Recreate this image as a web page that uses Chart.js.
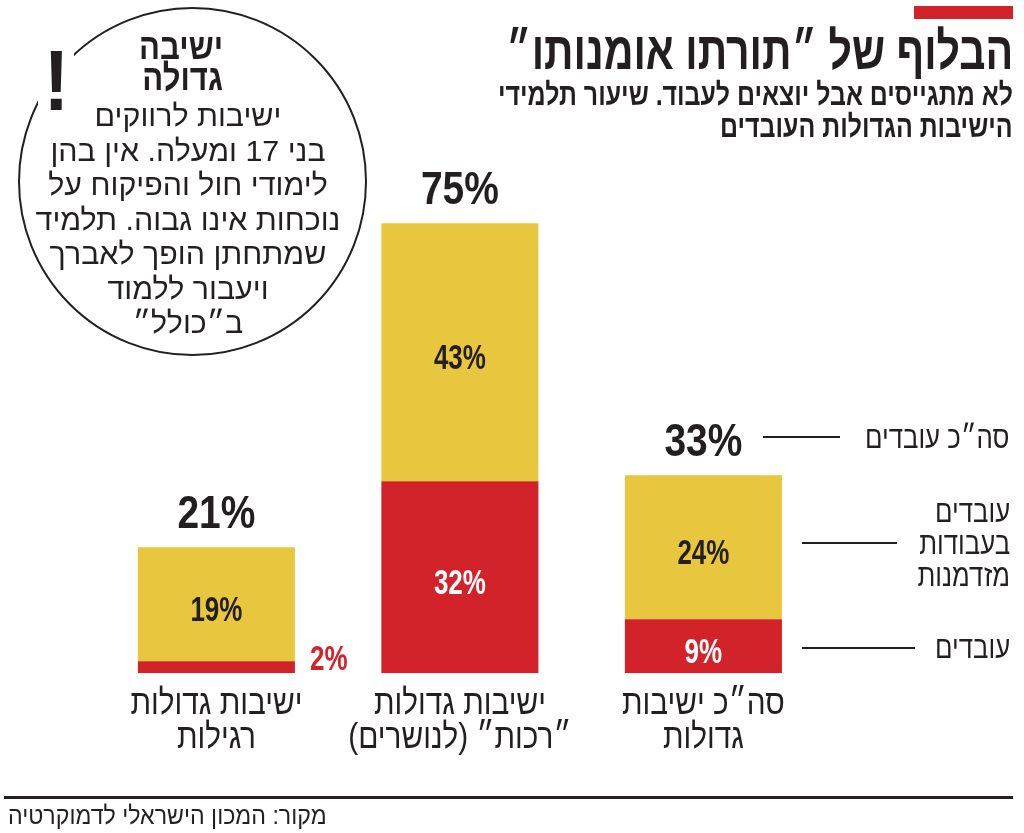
<!DOCTYPE html>
<html lang="he">
<head>
<meta charset="utf-8">
<script src="https://cdn.jsdelivr.net/npm/chart.js@4.4.1/dist/chart.umd.min.js"></script>
<style>
html,body{margin:0;padding:0;background:#fff;}
#wrap{position:relative;width:1024px;height:833px;overflow:hidden;background:#fff;font-family:"Liberation Sans","DejaVu Sans",sans-serif;color:#231f20;}
#c{position:absolute;left:0;top:0;}
.t{position:absolute;white-space:nowrap;line-height:1;direction:rtl;}
.rule{position:absolute;background:#231f20;}
#circle{position:absolute;left:18px;top:7px;width:349px;height:349px;border:2.5px solid #231f20;border-radius:50%;box-sizing:border-box;}
#bang{position:absolute;left:38px;top:44px;width:36px;height:72px;background:#fff;font-weight:700;font-size:86px;line-height:72px;text-align:center;}
#bang span{display:inline-block;transform:scaleX(0.9);}
</style>
</head>
<body>
<div id="wrap">
  <canvas id="c" width="1024" height="833"></canvas>
  <div id="circle"></div>
  <div id="bang"><span>!</span></div>
  <div class="rule" style="left:914px;top:6px;width:99px;height:13px;background:#d2232a;"></div>
  <div class="rule" style="left:763px;top:436px;width:77px;height:2px;"></div>
  <div class="rule" style="left:802px;top:542px;width:95px;height:2px;"></div>
  <div class="rule" style="left:802px;top:647px;width:113px;height:2px;"></div>
  <div class="rule" style="left:4px;top:796px;width:1009px;height:3px;"></div>
</div>
<script>
// ---- data ----
const categories = [
  ["ישיבות גדולות", "רגילות"],
  ["ישיבות גדולות", "״רכות״ (לנושרים)"],
  ["סה״כ ישיבות", "גדולות"]
];
const seriesNames = ["עובדים", "עובדים בעבודות מזדמנות"];
const workingValues = [2, 32, 9];        // red, bottom
const casualWorkValues = [19, 43, 24];   // yellow, top
const legendTotalLabel = "סה״כ עובדים";
const legendCasualLines = ["עובדים", "בעבודות", "מזדמנות"];
const legendWorkingLabel = "עובדים";

const titleText = "הבלוף של ״תורתו אומנותו״";
const subtitleLines = ["לא מתגייסים אבל יוצאים לעבוד. שיעור תלמידי", "הישיבות הגדולות העובדים"];
const boxTitleLines = ["ישיבה", "גדולה"];
const boxBodyLines = ["ישיבות לרווקים", "בני 17 ומעלה. אין בהן", "לימודי חול והפיקוח על", "נוכחות אינו גבוה. תלמיד", "שמתחתן הופך לאברך", "ויעבור ללמוד", "ב״כולל״"];
const sourceText = "מקור: המכון הישראלי לדמוקרטיה";

const RED = "#d2232a", YELLOW = "#e8c73e", DARK = "#231f20";
const FONT = '"Liberation Sans","DejaVu Sans",sans-serif';

// ---- HTML text helpers ----
const wrap = document.getElementById('wrap');
function mk(text, o){
  const el = document.createElement('div');
  el.className = 't';
  el.textContent = text;
  el.style.fontSize = o.size + 'px';
  el.style.fontWeight = o.bold ? '700' : '400';
  el.style.top = (o.cy - 0.53 * o.size) + 'px';
  if (o.right !== undefined) el.style.right = (1024 - o.right) + 'px';
  else el.style.left = o.cx + 'px';
  wrap.appendChild(el);
  return el;
}
function finish(el, o, sx){
  if (o.right !== undefined){
    el.style.transformOrigin = '100% 50%';
    el.style.transform = 'scaleX(' + sx + ')';
  } else {
    el.style.transformOrigin = '50% 50%';
    el.style.transform = 'translateX(-50%) scaleX(' + sx + ')';
  }
}
function group(items, refIndex, refWidth){
  const els = items.map(it => mk(it.text, it));
  const sx = refWidth / els[refIndex].offsetWidth;
  els.forEach((el, i) => finish(el, items[i], sx));
}

function buildText(){
  group([{text:titleText, right:1013, cy:53, size:52, bold:true}], 0, 507);
  group(subtitleLines.map((t,i)=>({text:t, right:1013, cy:95 + i*32, size:31, bold:true})), 0, 515);
  group(boxTitleLines.map((t,i)=>({text:t, right:223, cy:48 + i*31, size:37, bold:true})), 0, 84);
  group(boxBodyLines.map((t,i)=>({text:t, cx:188, cy:117 + i*34.5, size:30})), 3, 305);
  const leg = [{text:legendTotalLabel, right:1010, cy:438, size:31}]
    .concat(legendCasualLines.map((t,i)=>({text:t, right:1010, cy:512 + i*32, size:31})))
    .concat([{text:legendWorkingLabel, right:1010, cy:648, size:31}]);
  group(leg, 0, 145);
  group([{text:sourceText, right:327, cy:816, size:25}], 0, 319);
}

// ---- chart ----
function fittedText(ctx, text, x, y, font, sx, color, align, dir){
  ctx.save();
  ctx.font = font;
  ctx.fillStyle = color;
  ctx.textAlign = align;
  ctx.textBaseline = 'alphabetic';
  ctx.direction = dir || 'ltr';
  ctx.translate(x, y);
  ctx.scale(sx, 1);
  ctx.fillText(text, 0, 0);
  ctx.restore();
}

const labelPlugin = {
  id: 'labels',
  afterDatasetsDraw(chart){
    const ctx = chart.ctx;
    const xs = chart.scales.x, ys = chart.scales.y;
    const meta0 = chart.getDatasetMeta(0);
    const BIG = '700 47px ' + FONT, MID = '700 35px ' + FONT, CAT = '400 35px ' + FONT;
    ctx.save();
    ctx.font = BIG; const bigSx = 78 / ctx.measureText('21%').width;
    ctx.font = MID; const midSx = 52 / ctx.measureText('19%').width;
    ctx.font = CAT; ctx.direction = 'rtl'; const catSx = 172 / ctx.measureText(categories[0][0]).width;
    ctx.restore();
    categories.forEach((cat, i) => {
      const cx = xs.getPixelForValue(i);
      const total = workingValues[i] + casualWorkValues[i];
      const yTop = ys.getPixelForValue(total);
      const yMid = ys.getPixelForValue(workingValues[i]);
      const yBot = ys.getPixelForValue(0);
      fittedText(ctx, total + '%', cx, yTop - 19, BIG, bigSx, DARK, 'center');
      fittedText(ctx, casualWorkValues[i] + '%', cx, (yTop + yMid) / 2 + 17, MID, midSx, DARK, 'center');
      if (yBot - yMid > 30){
        fittedText(ctx, workingValues[i] + '%', cx, (yMid + yBot) / 2 + 17, MID, midSx, '#ffffff', 'center');
      } else {
        const bar = meta0.data[i];
        fittedText(ctx, workingValues[i] + '%', bar.x + bar.width / 2 + 15, yBot - 3, MID, midSx, RED, 'left');
      }
      cat.forEach((line, j) => {
        fittedText(ctx, line, cx, 714 + j * 34, CAT, catSx, DARK, 'center', 'rtl');
      });
    });
  }
};

function buildChart(){
  new Chart(document.getElementById('c'), {
    type: 'bar',
    data: {
      labels: categories,
      datasets: [
        {label: seriesNames[0], data: workingValues, backgroundColor: RED},
        {label: seriesNames[1], data: casualWorkValues, backgroundColor: YELLOW}
      ]
    },
    options: {
      responsive: false,
      animation: false,
      devicePixelRatio: 1,
      layout: {padding: {left: 94.65, right: 198.85, top: 193.3, bottom: 159.7}},
      datasets: {bar: {categoryPercentage: 1, barPercentage: 0.645, borderWidth: 0}},
      plugins: {legend: {display: false}, tooltip: {enabled: false}},
      scales: {
        x: {display: false, stacked: true},
        y: {display: false, stacked: true, min: 0, max: 80}
      }
    },
    plugins: [labelPlugin]
  });
}

(document.fonts && document.fonts.ready ? document.fonts.ready : Promise.resolve()).then(() => {
  buildText();
  buildChart();
});
</script>
</body>
</html>
